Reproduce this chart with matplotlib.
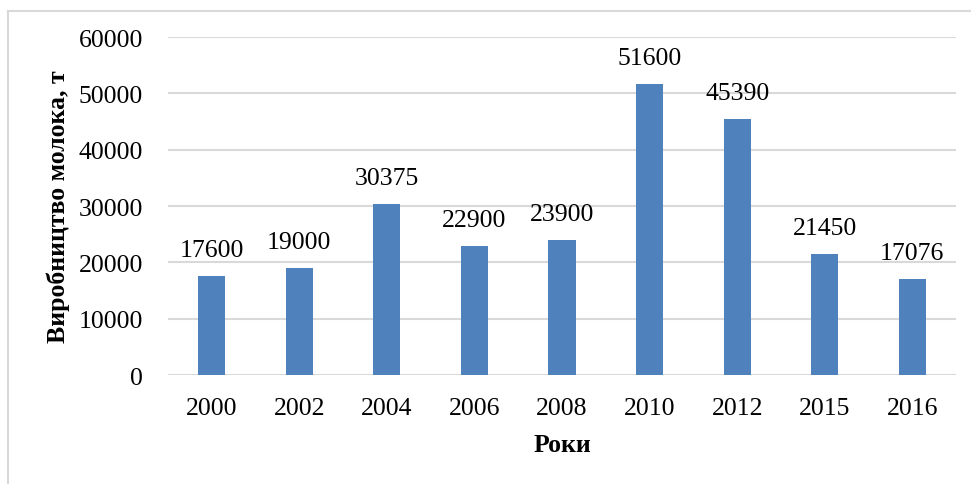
import matplotlib.pyplot as plt
from matplotlib.lines import Line2D

# Data
years = ['2000', '2002', '2004', '2006', '2008', '2010', '2012', '2015', '2016']
milk = [17600, 19000, 30375, 22900, 23900, 51600, 45390, 21450, 17076]
y_ticks = [0, 10000, 20000, 30000, 40000, 50000, 60000]

plt.rcParams['font.family'] = ['Liberation Serif', 'DejaVu Serif']

fig = plt.figure(figsize=(9.71, 4.85), dpi=100)
ax = fig.add_axes([0.173, 0.2247, 0.8116, 0.6969])

x = range(len(years))
bars = ax.bar(x, milk, width=0.31, color='#4F81BD', zorder=3)

for b, v in zip(bars, milk):
    ax.annotate(str(v), (b.get_x() + b.get_width() / 2, v),
                xytext=(0, 11), textcoords='offset points',
                ha='center', va='bottom', fontsize=18.5, zorder=4)

ax.set_xlim(-0.5, len(years) - 0.5)
ax.set_ylim(0, 60000)
ax.set_yticks(y_ticks)
ax.set_xticks(list(x))
ax.set_xticklabels(years)
ax.tick_params(axis='both', length=0, labelsize=18.5)
ax.tick_params(axis='y', pad=18)
ax.tick_params(axis='x', pad=16)
ax.grid(axis='y', color='#d9d9d9', linewidth=1.5, zorder=0)
for s in ax.spines.values():
    s.set_visible(False)

ax.set_xlabel('Роки', fontsize=18.5, fontweight='bold', labelpad=10)
ax.set_ylabel('Виробництво молока, т', fontsize=18.5, fontweight='bold', labelpad=6)

# light frame around the chart (top and left edges visible)
fig.add_artist(Line2D([8 / 971, 1.0], [1 - 12 / 485, 1 - 12 / 485],
                      transform=fig.transFigure, color='#d9d9d9', linewidth=1.5))
fig.add_artist(Line2D([8 / 971, 8 / 971], [0.0, 1 - 12 / 485],
                      transform=fig.transFigure, color='#d9d9d9', linewidth=1.5))

fig.savefig('out.png', dpi=100)
